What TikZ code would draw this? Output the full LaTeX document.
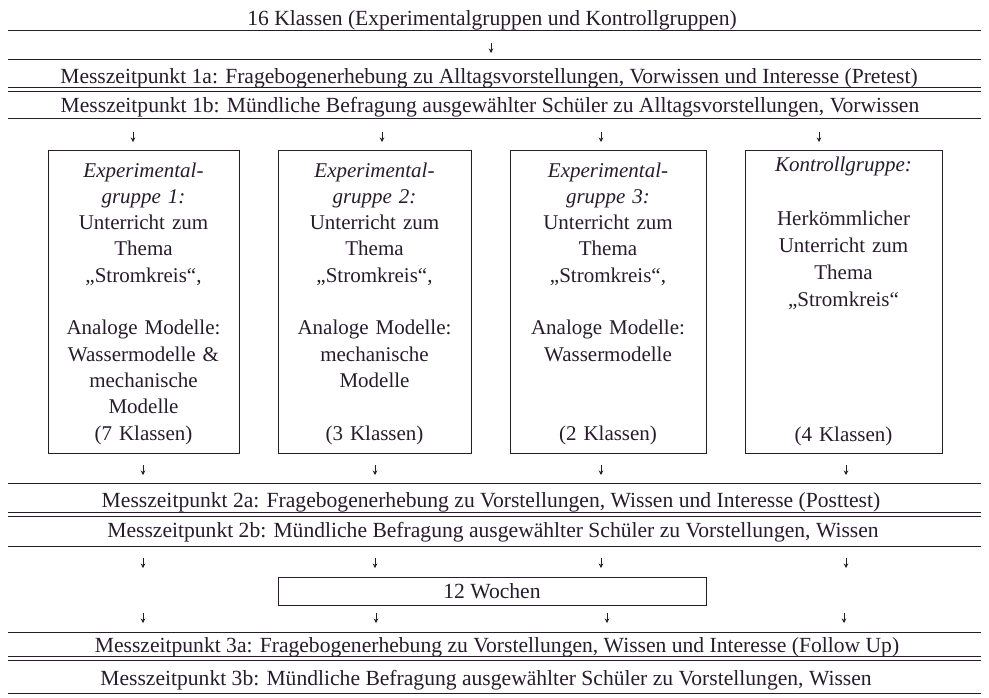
\documentclass[tikz,border=0pt]{standalone}
\usepackage{fontspec}
\setmainfont{Liberation Serif}
\usepackage{tikz}
\usetikzlibrary{arrows.meta,positioning}
\definecolor{tinte}{RGB}{40,28,44}
\tikzset{
    zeile/.style={anchor=base, inner sep=0pt, text=tinte, font=\fontsize{21.6}{26.3}\selectfont},
    gruppe/.style={draw=tinte, line width=0.9pt, minimum height=303pt, text width=186pt, inner xsep=2pt, inner ysep=0pt, align=center, text=tinte, font=\fontsize{21}{26.3}\selectfont},
    wochenbox/.style={draw=tinte, line width=0.9pt, minimum width=428pt, minimum height=28pt, inner sep=0pt, text=tinte, font=\fontsize{21.6}{26.3}\selectfont},
    regel/.style={draw=tinte, line width=0.9pt},
    pfeil/.style={-{Stealth[length=4.5pt, width=4.5pt]}, line width=0.9pt, tinte}
}
\newcommand{\oben}{\rule{0pt}{18.5pt}}
\newcommand{\leer}{\mbox{}}

\begin{document}
\begin{tikzpicture}[x=1pt, y=-1pt]
\useasboundingbox (0,0) rectangle (989,697);

% Messzeitpunkt 1
\node[zeile] (klassen) at (492,25) {16 Klassen (Experimentalgruppen und Kontrollgruppen)};
\node[zeile] (mz1a) at (489,83) {Messzeitpunkt 1a: Fragebogenerhebung zu Alltagsvorstellungen, Vorwissen und Interesse (Pretest)};
\node[zeile] (mz1b) at (490,112) {Messzeitpunkt 1b: Mündliche Befragung ausgewählter Schüler zu Alltagsvorstellungen, Vorwissen};

% Gruppen
\node[gruppe, minimum width=191pt] (eg1) at (143.5,301.5) {\oben\textit{Experimental-}\\ \textit{gruppe 1:}\\ Unterricht zum\\ Thema\\ „Stromkreis“,\\ \leer\\ Analoge Modelle:\\ Wassermodelle \&\\ mechanische\\ Modelle\\ (7 Klassen)};
\node[gruppe, minimum width=193pt] (eg2) at (374.5,301.5) {\oben\textit{Experimental-}\\ \textit{gruppe 2:}\\ Unterricht zum\\ Thema\\ „Stromkreis“,\\ \leer\\ Analoge Modelle:\\ mechanische\\ Modelle\\ \leer\\ (3 Klassen)};
\node[gruppe, minimum width=196pt] (eg3) at (608,301.5) {\oben\textit{Experimental-}\\ \textit{gruppe 3:}\\ Unterricht zum\\ Thema\\ „Stromkreis“,\\ \leer\\ Analoge Modelle:\\ Wassermodelle\\ \leer\\ \leer\\ (2 Klassen)};
\node[gruppe, minimum width=197pt, font=\fontsize{21}{27}\selectfont] (kg) at (843.5,301.5) {\textit{Kontrollgruppe:}\\ \leer\\ Herkömmlicher\\ Unterricht zum\\ Thema\\ „Stromkreis“\\ \leer\\ \leer\\ \leer\\ \leer\\ (4 Klassen)};

% Messzeitpunkt 2 und 3
\node[zeile] (mz2a) at (491,507) {Messzeitpunkt 2a: Fragebogenerhebung zu Vorstellungen, Wissen und Interesse (Posttest)};
\node[zeile] (mz2b) at (493,537) {Messzeitpunkt 2b: Mündliche Befragung ausgewählter Schüler zu Vorstellungen, Wissen};
\node[wochenbox] (wochen) at (492,591) {12 Wochen};
\node[zeile] (mz3a) at (497,652) {Messzeitpunkt 3a: Fragebogenerhebung zu Vorstellungen, Wissen und Interesse (Follow Up)};
\node[zeile] (mz3b) at (486,685) {Messzeitpunkt 3b: Mündliche Befragung ausgewählter Schüler zu Vorstellungen, Wissen};

% Linien
\foreach \y in {30.5,59,87.5,91.5,118,483,512,516,546.5,632,656.5,660.5,693.5}
    \draw[regel] (8,\y) -- (981,\y);

% Pfeile
\foreach \x/\y [count=\i] in {491/43,
        133/132, 382/132, 601/132, 819/132,
        143/465, 375/465, 601/465, 846/465,
        143/558, 375/558, 601/558, 846/558,
        143/613, 376/613, 607/613, 844/613} {
    \coordinate (s\i) at (\x,\y);
    \coordinate (e\i) at (\x,\y+10);
    \draw[pfeil] (s\i) -- (e\i);
}
\end{tikzpicture}
\end{document}
